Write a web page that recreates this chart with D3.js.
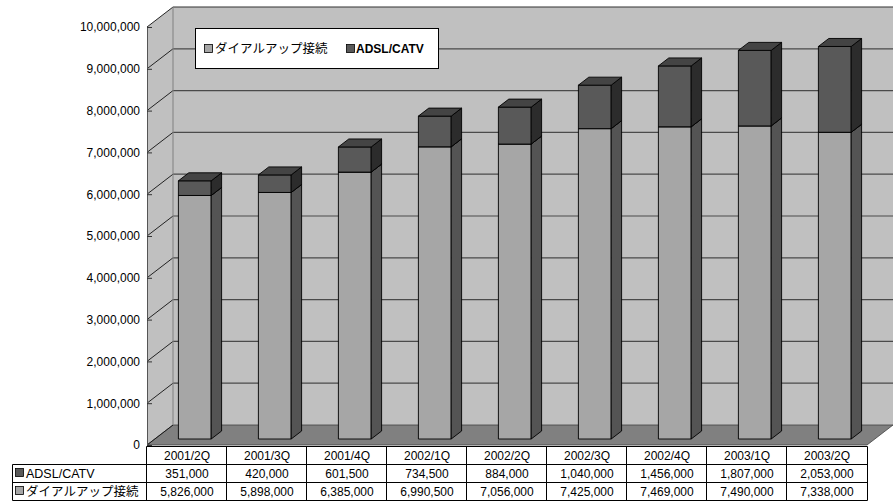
<!DOCTYPE html>
<html>
<head>
<meta charset="utf-8">
<script src="https://cdn.jsdelivr.net/npm/d3@7/dist/d3.min.js"></script>
<style>
  html, body { margin: 0; padding: 0; background: #ffffff; }
  svg { display: block; font-family: "Liberation Sans", "Noto Sans CJK JP", sans-serif; }
</style>
</head>
<body>
<svg id="chart" width="895" height="504"></svg>
<script>
// Quarterly subscriber counts
const categories = ["2001/2Q", "2001/3Q", "2001/4Q", "2002/1Q", "2002/2Q", "2002/3Q", "2002/4Q", "2003/1Q", "2003/2Q"];
const dialup = [5826000, 5898000, 6385000, 6990500, 7056000, 7425000, 7469000, 7490000, 7338000];
const adsl = [351000, 420000, 601500, 734500, 884000, 1040000, 1456000, 1807000, 2053000];
const seriesNames = ["ダイアルアップ接続", "ADSL/CATV"];
const yTicks = [0, 1000000, 2000000, 3000000, 4000000, 5000000, 6000000, 7000000, 8000000, 9000000, 10000000];

const svg = d3.select("#chart");

// Front plane of the plot and the oblique depth offset
const pLeft = 147, pRight = 867, pBottom = 445, pTop = 27;
const DX = 26, DY = -20;
const y = d3.scaleLinear().domain([0, 10000000]).range([pBottom, pTop]);
const xCol = d3.scaleBand().domain(categories).range([pLeft, pRight]).padding(0);
const xBar = d3.scaleBand().domain(categories).range([pLeft, pRight])
  .paddingInner(0.59).paddingOuter(0.295);
const fmt = d3.format(",");

// project a front-plane point back by depth fraction f
const P = (x, yy, f) => [x + DX * f, yy + DY * f];
const poly = pts => "M" + pts.map(p => p.join(",")).join("L") + "Z";

const col = {
  wall: "#c0c0c0", floor: "#808080", grid: "#4a4a4a",
  dFront: "#a6a6a6", dSide: "#545454", dTop: "#7a7a7a",
  aFront: "#595959", aSide: "#2c2c2c", aTop: "#444444"
};

// Back wall
svg.append("path")
  .attr("d", poly([P(pLeft, pTop, 1), P(pRight, pTop, 1), P(pRight, pBottom, 1), P(pLeft, pBottom, 1)]))
  .attr("fill", col.wall).attr("stroke", "none");
// Side wall
svg.append("path")
  .attr("d", poly([P(pLeft, pTop, 0), P(pLeft, pTop, 1), P(pLeft, pBottom, 1), P(pLeft, pBottom, 0)]))
  .attr("fill", col.wall).attr("stroke", "none");
// Floor
svg.append("path")
  .attr("d", poly([P(pLeft, pBottom, 0), P(pLeft, pBottom, 1), P(pRight, pBottom, 1), P(pRight, pBottom, 0)]))
  .attr("fill", col.floor).attr("stroke", "#404040").attr("stroke-width", 0.8);

// Gridlines on the back wall and the side wall
const grid = svg.append("g");
yTicks.forEach(v => {
  const b0 = P(pLeft, y(v), 1), b1 = P(pRight, y(v), 1), f0 = P(pLeft, y(v), 0);
  if (v > 0) {
    grid.append("line").attr("x1", b0[0]).attr("y1", b0[1]).attr("x2", b1[0]).attr("y2", b1[1])
      .attr("stroke", v === 10000000 ? "#333" : col.grid).attr("stroke-width", 1.2);
  }
  grid.append("line").attr("x1", f0[0]).attr("y1", f0[1]).attr("x2", b0[0]).attr("y2", b0[1])
    .attr("stroke", "#111").attr("stroke-width", 0.9);
});
// wall corner edge
const c0 = P(pLeft, pTop, 1), c1 = P(pLeft, pBottom, 1);
svg.append("line").attr("x1", c0[0]).attr("y1", c0[1]).attr("x2", c1[0]).attr("y2", c1[1])
  .attr("stroke", "#808080").attr("stroke-width", 1);

// Value axis on the front edge of the side wall
const yAxis = d3.axisLeft(y).tickValues(yTicks).tickFormat(fmt).tickSize(0).tickPadding(7);
const axisG = svg.append("g").attr("transform", `translate(${pLeft},0)`).call(yAxis);
axisG.select(".domain").attr("stroke", "#555").attr("stroke-width", 1);
axisG.selectAll(".tick text").attr("font-size", 12).attr("fill", "#000")
  .attr("font-family", "Liberation Sans, sans-serif");
axisG.selectAll(".tick").append("line").attr("x1", 0).attr("x2", 5)
  .attr("stroke", "#333").attr("stroke-width", 1);

// Stacked 3D bars
const f0 = 0.3, f1 = 0.7;
function box(g, x0, x1, yLo, yHi, front, side, topC) {
  const faces = [
    [[P(x0, yHi, f0), P(x1, yHi, f0), P(x1, yLo, f0), P(x0, yLo, f0)], front],
    [[P(x1, yHi, f0), P(x1, yHi, f1), P(x1, yLo, f1), P(x1, yLo, f0)], side],
    [[P(x0, yHi, f0), P(x0, yHi, f1), P(x1, yHi, f1), P(x1, yHi, f0)], topC]
  ];
  faces.forEach(([pts, c]) => {
    g.append("path").attr("d", poly(pts)).attr("fill", c)
      .attr("stroke", "#000").attr("stroke-width", 0.9).attr("stroke-linejoin", "round");
  });
}
const bars = svg.append("g");
categories.forEach((c, i) => {
  const x0 = xBar(c), x1 = x0 + xBar.bandwidth();
  const g = bars.append("g");
  box(g, x0, x1, y(0), y(dialup[i]), col.dFront, col.dSide, col.dTop);
  box(g, x0, x1, y(dialup[i]), y(dialup[i] + adsl[i]), col.aFront, col.aSide, col.aTop);
});

// Legend
const lg = svg.append("g");
lg.append("rect").attr("x", 195.5).attr("y", 28.5).attr("width", 243).attr("height", 40)
  .attr("fill", "#fff").attr("stroke", "#000").attr("stroke-width", 1);
lg.append("rect").attr("x", 204.5).attr("y", 44.5).attr("width", 8).attr("height", 8)
  .attr("fill", col.dFront).attr("stroke", "#000").attr("stroke-width", 0.8);
lg.append("text").attr("x", 215).attr("y", 53).attr("font-size", 12.5)
  .attr("font-family", "Noto Sans CJK JP, sans-serif").text(seriesNames[0]);
lg.append("rect").attr("x", 346.5).attr("y", 44.5).attr("width", 8).attr("height", 8)
  .attr("fill", col.aFront).attr("stroke", "#000").attr("stroke-width", 0.8);
lg.append("text").attr("x", 356).attr("y", 53).attr("font-size", 12).attr("font-weight", "bold")
  .text(seriesNames[1]);

// Data table under the plot
const tb = svg.append("g");
const rowY = [446, 464, 482, 500];
const tLeft = 12;
const line = (x1, y1, x2, y2) => tb.append("line").attr("x1", x1).attr("y1", y1).attr("x2", x2).attr("y2", y2)
  .attr("stroke", "#000").attr("stroke-width", 1);
line(pLeft - 0.5, rowY[0] + 0.5, pRight + 0.5, rowY[0] + 0.5);
line(tLeft + 0.5, rowY[1] + 0.5, pRight + 0.5, rowY[1] + 0.5);
line(tLeft + 0.5, rowY[2] + 0.5, pRight + 0.5, rowY[2] + 0.5);
line(tLeft + 0.5, rowY[3] + 0.5, pRight + 0.5, rowY[3] + 0.5);
line(tLeft + 0.5, rowY[1] + 0.5, tLeft + 0.5, rowY[3] + 0.5);
categories.forEach(c => line(xCol(c) - 0.5, rowY[0] + 0.5, xCol(c) - 0.5, rowY[3] + 0.5));
line(pRight + 0.5, rowY[0] + 0.5, pRight + 0.5, rowY[3] + 0.5);

const rows = [categories, adsl.map(fmt), dialup.map(fmt)];
rows.forEach((vals, r) => {
  vals.forEach((v, i) => {
    tb.append("text").attr("x", xCol(categories[i]) + xCol.bandwidth() / 2)
      .attr("y", (rowY[r] + rowY[r + 1]) / 2 + 4.5)
      .attr("text-anchor", "middle").attr("font-size", 12).text(v);
  });
});
// row headers with series swatches
const heads = [[seriesNames[1], col.aFront], [seriesNames[0], col.dFront]];
heads.forEach(([name, c], r) => {
  const cy = (rowY[r + 1] + rowY[r + 2]) / 2;
  tb.append("rect").attr("x", 15.5).attr("y", cy - 4.5).attr("width", 8).attr("height", 8)
    .attr("fill", c).attr("stroke", "#000").attr("stroke-width", 0.8);
  tb.append("text").attr("x", 26).attr("y", cy + 4.5).attr("font-size", r === 0 ? 12.5 : 12.5)
    .attr("font-family", r === 0 ? "Liberation Sans, sans-serif" : "Noto Sans CJK JP, sans-serif")
    .text(name);
});
</script>
</body>
</html>
